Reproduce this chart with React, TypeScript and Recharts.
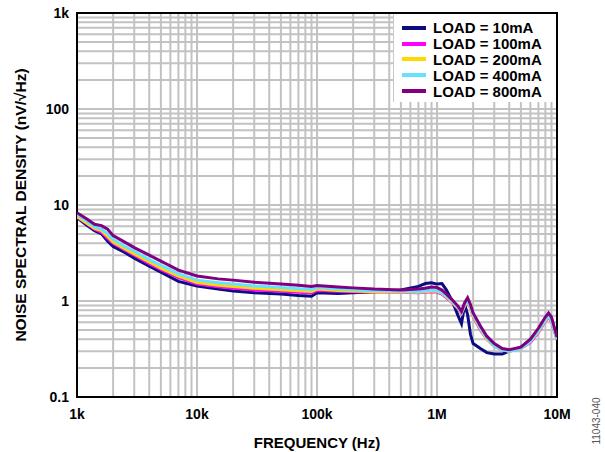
import React from 'react';
import {
  CartesianGrid,
  Label,
  Legend,
  Line,
  LineChart,
  ReferenceArea,
  XAxis,
  YAxis,
} from 'recharts';

const FONT = 'Arial, "Liberation Sans", sans-serif';

// frequency points (Hz) shared by every curve
const FREQ_HZ = [
  1000, 1200, 1400, 1600, 1800, 2000, 2500, 3000, 4000, 5000, 7000, 10000, 15000, 20000, 30000,
  50000, 70000, 90000, 100000, 150000, 200000, 300000, 500000, 700000, 800000, 900000, 1000000,
  1100000, 1200000, 1350000, 1500000, 1600000, 1700000, 1800000, 1900000, 2000000, 2300000,
  2600000, 3000000, 3500000, 4000000, 5000000, 6000000, 7000000, 8000000, 8500000, 9000000,
  10000000,
];

const LOAD_10MA = [
  7.4, 6.2, 5.4, 5.0, 4.2, 3.7, 3.2, 2.8, 2.3, 2.0, 1.6, 1.43, 1.33, 1.27, 1.22, 1.18, 1.14, 1.12,
  1.22, 1.2, 1.22, 1.25, 1.3, 1.42, 1.52, 1.55, 1.5, 1.52, 1.3, 0.98, 0.7, 0.58, 0.92, 0.72, 0.45,
  0.36, 0.32, 0.29, 0.28, 0.28, 0.3, 0.33, 0.39, 0.5, 0.64, 0.7, 0.64, 0.4,
];
const LOAD_100MA = [
  7.5, 6.4, 5.6, 5.2, 4.5, 4.0, 3.4, 3.0, 2.45, 2.12, 1.75, 1.5, 1.41, 1.36, 1.3, 1.26, 1.23, 1.21,
  1.29, 1.26, 1.25, 1.24, 1.23, 1.22, 1.23, 1.25, 1.24, 1.18, 1.08, 0.95, 0.83, 0.74, 0.89, 0.97,
  0.85, 0.69, 0.5, 0.4, 0.34, 0.31, 0.3, 0.32, 0.37, 0.47, 0.62, 0.68, 0.61, 0.4,
];
const LOAD_200MA = [
  7.6, 6.5, 5.7, 5.4, 4.7, 4.1, 3.5, 3.1, 2.55, 2.2, 1.82, 1.56, 1.46, 1.42, 1.36, 1.31, 1.28,
  1.26, 1.33, 1.29, 1.27, 1.25, 1.24, 1.23, 1.25, 1.27, 1.26, 1.2, 1.1, 0.96, 0.84, 0.75, 0.9,
  0.98, 0.86, 0.7, 0.51, 0.4, 0.34, 0.31, 0.3, 0.32, 0.38, 0.48, 0.63, 0.69, 0.62, 0.4,
];
const LOAD_400MA = [
  8.0, 6.8, 5.9, 5.6, 5.0, 4.4, 3.7, 3.3, 2.7, 2.35, 1.92, 1.65, 1.55, 1.5, 1.43, 1.38, 1.34, 1.32,
  1.38, 1.33, 1.31, 1.28, 1.26, 1.25, 1.27, 1.3, 1.28, 1.22, 1.12, 0.98, 0.85, 0.76, 0.92, 1.0,
  0.88, 0.72, 0.52, 0.41, 0.34, 0.31, 0.3, 0.32, 0.38, 0.49, 0.64, 0.7, 0.63, 0.4,
];
const LOAD_800MA = [
  8.3, 7.2, 6.3, 6.1, 5.6, 4.8, 4.1, 3.6, 3.0, 2.6, 2.1, 1.82, 1.7, 1.65, 1.57, 1.5, 1.46, 1.42,
  1.45, 1.4, 1.37, 1.33, 1.3, 1.33, 1.36, 1.4, 1.38, 1.3, 1.18, 1.02, 0.88, 0.78, 0.96, 1.08, 0.92,
  0.75, 0.55, 0.43, 0.36, 0.32, 0.31, 0.33, 0.4, 0.52, 0.68, 0.75, 0.68, 0.42,
];

const SERIES = [
  { key: 'l10', name: 'LOAD = 10mA', color: '#0c0c80', values: LOAD_10MA },
  { key: 'l100', name: 'LOAD = 100mA', color: '#ff00ff', values: LOAD_100MA },
  { key: 'l200', name: 'LOAD = 200mA', color: '#ffd800', values: LOAD_200MA },
  { key: 'l400', name: 'LOAD = 400mA', color: '#66e2ff', values: LOAD_400MA },
  { key: 'l800', name: 'LOAD = 800mA', color: '#800080', values: LOAD_800MA },
];

const X_MAJOR = [1000, 10000, 100000, 1000000, 10000000];
const X_LABELS = ['1k', '10k', '100k', '1M', '10M'];
const Y_MAJOR = [0.1, 1, 10, 100, 1000];
const Y_LABELS = ['0.1', '1', '10', '100', '1k'];

// every decade gets grid lines at 1..9
function logTicks(majors: number[]) {
  const out: number[] = [];
  majors.forEach((m, i) => {
    if (i === majors.length - 1) {
      out.push(m);
      return;
    }
    for (let k = 1; k < 10; k++) out.push(m * k);
  });
  return out;
}

function labelFor(majors: number[], labels: string[]) {
  return (v: number) => {
    const i = majors.findIndex((m) => Math.abs(v - m) / m < 1e-6);
    return i >= 0 ? labels[i] : '';
  };
}

const data = FREQ_HZ.map((f, i) => {
  const row: Record<string, number> = { f };
  SERIES.forEach((s) => {
    row[s.key] = s.values[i];
  });
  return row;
});

const tickStyle = { fontFamily: FONT, fontSize: 14, fontWeight: 700, fill: '#000' };

function LegendBox() {
  return (
    <div
      style={{
        width: 163,
        height: 88,
        background: '#fff',
        borderLeft: '1px solid #c8c8c8',
        boxSizing: 'border-box',
        padding: '6px 0 0 8px',
        fontFamily: FONT,
        fontWeight: 700,
        fontSize: 15,
        color: '#000',
      }}
    >
      {SERIES.map((s) => (
        <div key={s.key} style={{ display: 'flex', alignItems: 'center', height: 15.8 }}>
          <span
            style={{ display: 'inline-block', width: 24, height: 4, background: s.color, marginRight: 7 }}
          />
          <span style={{ lineHeight: '15px', whiteSpace: 'nowrap' }}>{s.name}</span>
        </div>
      ))}
    </div>
  );
}

export default function App() {
  return (
    <div style={{ position: 'absolute', left: 0, top: 0, width: 605, height: 452, background: '#fff' }}>
      <LineChart width={605} height={452} data={data} margin={{ top: 13, right: 48, bottom: 0, left: 0 }}>
        <CartesianGrid stroke="#c2c2c2" strokeWidth={2} />
        <XAxis
          dataKey="f"
          type="number"
          scale="log"
          domain={[1000, 10000000]}
          ticks={logTicks(X_MAJOR)}
          interval={0}
          tickFormatter={labelFor(X_MAJOR, X_LABELS)}
          tick={tickStyle}
          tickLine={false}
          axisLine={false}
          tickMargin={6}
          height={55}
          allowDataOverflow
        >
          <Label
            value="FREQUENCY (Hz)"
            position="insideBottom"
            offset={4}
            style={{ fontFamily: FONT, fontSize: 15, fontWeight: 700, fill: '#000' }}
          />
        </XAxis>
        <YAxis
          type="number"
          scale="log"
          domain={[0.1, 1000]}
          ticks={logTicks(Y_MAJOR)}
          interval={0}
          tickFormatter={labelFor(Y_MAJOR, Y_LABELS)}
          tick={tickStyle}
          tickLine={false}
          axisLine={false}
          width={77}
          allowDataOverflow
        >
          <Label
            content={(props: any) => {
              const vb = props.viewBox || { x: 0, y: 13, width: 77, height: 384 };
              const cx = vb.x + 20;
              const cy = vb.y + vb.height / 2;
              return (
                <text
                  x={cx}
                  y={cy}
                  transform={`rotate(-90 ${cx} ${cy})`}
                  textAnchor="middle"
                  dominantBaseline="central"
                  style={{ fontFamily: FONT, fontSize: 15.5, fontWeight: 700, fill: '#000' }}
                >
                  NOISE SPECTRAL DENSITY (nV/√Hz)
                </text>
              );
            }}
          />
        </YAxis>
        {SERIES.map((s) => (
          <Line
            key={s.key}
            dataKey={s.key}
            name={s.name}
            type="linear"
            stroke={s.color}
            strokeWidth={3}
            dot={false}
            activeDot={false}
            isAnimationActive={false}
          />
        ))}
        <ReferenceArea
          x1={1000}
          x2={10000000}
          y1={0.1}
          y2={1000}
          fill="none"
          stroke="#000"
          strokeWidth={2}
          ifOverflow="visible"
        />
        <Legend
          layout="vertical"
          align="center"
          verticalAlign="middle"
          wrapperStyle={{ left: 393, top: 14, width: 163 }}
          content={() => <LegendBox />}
        />
      </LineChart>
      <div
        style={{
          position: 'absolute',
          left: 596,
          top: 421,
          transform: 'translate(-50%, -50%) rotate(-90deg)',
          fontFamily: FONT,
          fontSize: 10,
          color: '#555',
          whiteSpace: 'nowrap',
        }}
      >
        11043-040
      </div>
    </div>
  );
}
